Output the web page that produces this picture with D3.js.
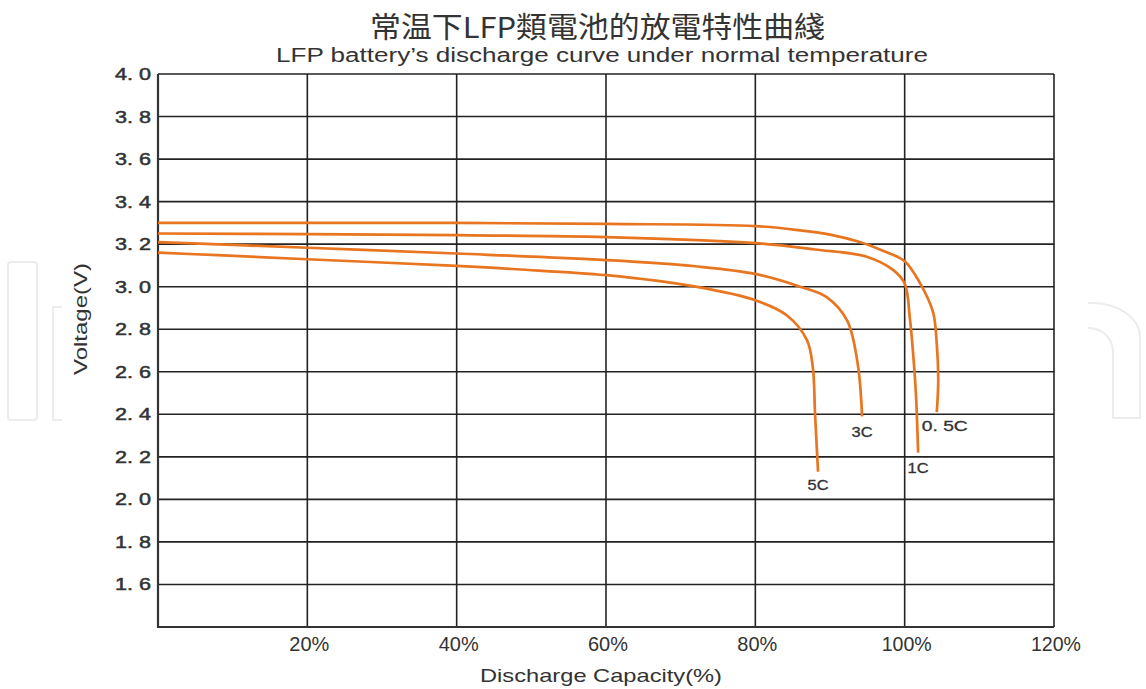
<!DOCTYPE html>
<html>
<head>
<meta charset="utf-8">
<script src="https://cdn.jsdelivr.net/npm/d3@7"></script>
<style>
  html, body { margin: 0; padding: 0; background: #fff; }
  svg { display: block; }
</style>
</head>
<body>
<svg id="chart" width="1146" height="689"></svg>
<script>
// Discharge capacity (%) vs. voltage (V) for each discharge rate
const rate05C = [[0,3.30],[20,3.30],[40,3.30],[60,3.295],[80,3.285],[86,3.265],[90,3.245],[94,3.21],[97,3.17],[100,3.12],[102,3.02],[103.8,2.88],[104.3,2.73],[104.5,2.56],[104.3,2.41]];
const rate1C  = [[0,3.25],[20,3.247],[40,3.242],[60,3.233],[80,3.205],[88,3.175],[95,3.14],[98.4,3.08],[100,3.015],[100.7,2.85],[101.1,2.70],[101.5,2.50],[101.8,2.22]];
const rate3C  = [[0,3.21],[20,3.183],[40,3.156],[60,3.125],[72,3.096],[80,3.06],[86,3.0],[89.6,2.95],[92.3,2.84],[93.7,2.64],[94.3,2.39]];
const rate5C  = [[0,3.16],[8,3.148],[20,3.129],[40,3.098],[48,3.082],[60,3.054],[72,3.0],[80,2.936],[84.2,2.866],[86.9,2.75],[87.7,2.62],[88,2.4],[88.4,2.13]];
const seriesNames = ["0. 5C", "1C", "3C", "5C"];
const seriesData = [rate05C, rate1C, rate3C, rate5C];

const xTicks = [20, 40, 60, 80, 100, 120];
const yTicks = [1.6, 1.8, 2.0, 2.2, 2.4, 2.6, 2.8, 3.0, 3.2, 3.4, 3.6, 3.8, 4.0];

const titleZh = "常温下LFP類電池的放電特性曲綫";
const titleEn = "LFP battery’s discharge curve under normal temperature";
const xTitle = "Discharge Capacity(%)";
const yTitle = "Voltage(V)";

const svg = d3.select("#chart");
const plot = { left: 158, right: 1054, top: 74, bottom: 627 };
const sans = "Liberation Sans, Arial, sans-serif";

const x = d3.scaleLinear().domain([0, 120]).range([plot.left, plot.right]);
const y = d3.scaleLinear().domain([1.4, 4.0]).range([plot.bottom, plot.top]);

// faint background logo outline
const wm = svg.append("g").attr("fill", "none").attr("stroke", "#ececec").attr("stroke-width", 2);
wm.append("rect").attr("x", 8).attr("y", 262).attr("width", 29).attr("height", 158).attr("rx", 3);
wm.append("path").attr("d", "M62,307 H53 V420 H62");
wm.append("path").attr("d", "M1088,303 H1092 A48,34 0 0 1 1140,337 V418 H1113 V352 A24,24 0 0 0 1089,328 H1088");

// plot background
svg.append("rect").attr("x", plot.left).attr("y", plot.top)
  .attr("width", plot.right - plot.left).attr("height", plot.bottom - plot.top)
  .attr("fill", "#fff");

// grid
const grid = svg.append("g").attr("stroke", "#222").attr("stroke-width", 1.6);
grid.selectAll("line.h").data(yTicks).join("line")
  .attr("x1", plot.left).attr("x2", plot.right)
  .attr("y1", d => y(d)).attr("y2", d => y(d));
grid.selectAll("line.v").data(xTicks).join("line")
  .attr("x1", d => x(d)).attr("x2", d => x(d))
  .attr("y1", plot.top).attr("y2", plot.bottom);
// frame: left and bottom edges
svg.append("path")
  .attr("d", `M${plot.left},${plot.top} V${plot.bottom} H${plot.right}`)
  .attr("fill", "none").attr("stroke", "#333").attr("stroke-width", 2.2);

// y tick labels
const yFmt = d => d.toFixed(1).replace(".", ". ");
svg.append("g").selectAll("text").data(yTicks).join("text")
  .attr("x", 151).attr("y", d => y(d) + 6)
  .attr("text-anchor", "end")
  .attr("font-family", sans)
  .attr("font-size", 17)
  .attr("fill", "#333").attr("stroke", "#333").attr("stroke-width", 0.5)
  .attr("textLength", 36).attr("lengthAdjust", "spacingAndGlyphs")
  .text(yFmt);

// x tick labels (condensed)
svg.append("g").selectAll("text").data(xTicks).join("text")
  .attr("x", d => x(d) + 2).attr("y", 651)
  .attr("text-anchor", "middle")
  .attr("font-family", sans)
  .attr("font-size", 20)
  .attr("fill", "#333")
  .attr("textLength", d => d >= 100 ? 50 : 40).attr("lengthAdjust", "spacingAndGlyphs")
  .text(d => d + "%");

// axis titles
svg.append("text").attr("x", 601).attr("y", 682)
  .attr("text-anchor", "middle")
  .attr("font-family", sans)
  .attr("font-size", 19).attr("fill", "#333")
  .attr("textLength", 242).attr("lengthAdjust", "spacingAndGlyphs")
  .text(xTitle);
svg.append("text")
  .attr("transform", "translate(87,319) rotate(-90)")
  .attr("text-anchor", "middle")
  .attr("font-family", sans)
  .attr("font-size", 18).attr("fill", "#333")
  .attr("textLength", 112).attr("lengthAdjust", "spacingAndGlyphs")
  .text(yTitle);

// titles
svg.append("text").attr("x", 370).attr("y", 38)
  .attr("font-family", "Noto Sans CJK TC, Noto Sans CJK SC, sans-serif")
  .attr("font-size", 29).attr("fill", "#333")
  .attr("textLength", 455).attr("lengthAdjust", "spacingAndGlyphs")
  .text(titleZh);
svg.append("text").attr("x", 276).attr("y", 62)
  .attr("textLength", 652).attr("lengthAdjust", "spacingAndGlyphs")
  .attr("font-family", sans)
  .attr("font-size", 20).attr("fill", "#333")
  .text(titleEn);

// curves
const line = d3.line().x(d => x(d[0])).y(d => y(d[1])).curve(d3.curveCatmullRom.alpha(0.5));
svg.append("g").selectAll("path").data(seriesData).join("path")
  .attr("d", d => line(d))
  .attr("fill", "none")
  .attr("stroke", "#e8751f")
  .attr("stroke-width", 2.7)
  .attr("stroke-linejoin", "round");

// rate labels placed under each curve's end
const labelPos = [[-15, 19, "start"], [0, 20, "middle"], [0, 21, "middle"], [0, 18, "middle"]];
svg.append("g").selectAll("text").data(seriesData).join("text")
  .attr("x", (d, i) => x(d[d.length - 1][0]) + labelPos[i][0])
  .attr("y", (d, i) => y(d[d.length - 1][1]) + labelPos[i][1])
  .attr("text-anchor", (d, i) => labelPos[i][2])
  .attr("font-family", sans)
  .attr("font-size", 14)
  .attr("fill", "#333").attr("stroke", "#333").attr("stroke-width", 0.3)
  .attr("textLength", (d, i) => i === 0 ? 46 : 21).attr("lengthAdjust", "spacingAndGlyphs")
  .text((d, i) => seriesNames[i]);
</script>
</body>
</html>
